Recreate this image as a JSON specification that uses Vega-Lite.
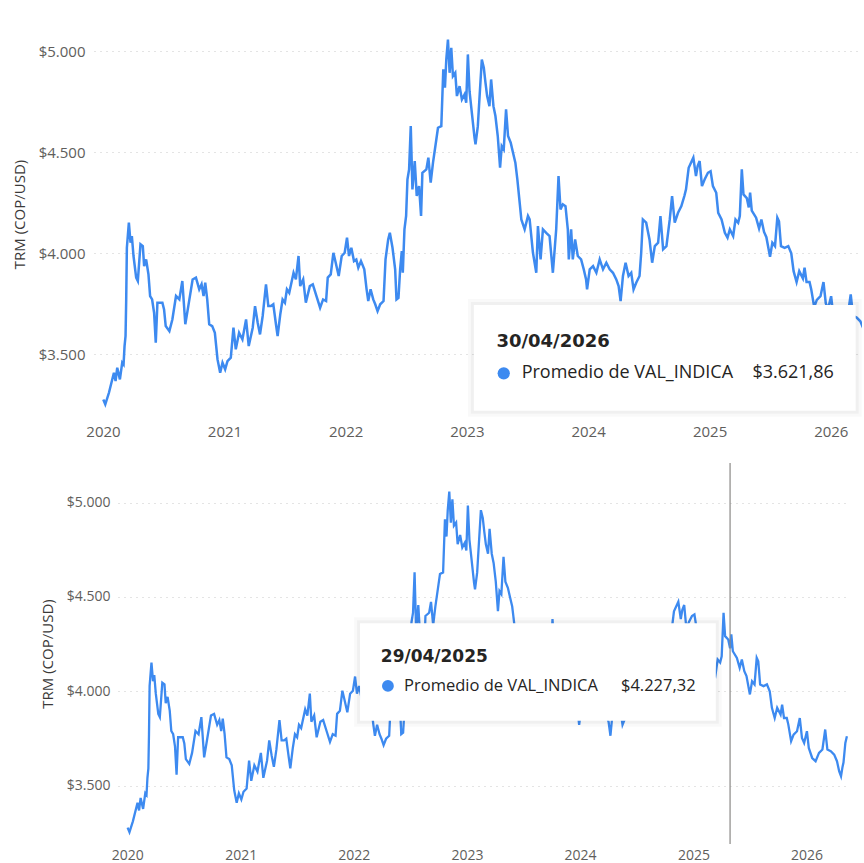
{
  "$schema": "https://vega.github.io/schema/vega-lite/v6.json",
  "background": "white",
  "padding": {"left": 11, "top": 11, "right": 0, "bottom": 0},
  "spacing": 23,
  "config": {
    "view": {"stroke": null},
    "font": "Open Sans",
    "axis": {
      "domain": false,
      "ticks": false,
      "labelFont": "Open Sans",
      "labelColor": "#605E5C",
      "titleFont": "Open Sans",
      "titleColor": "#3B3A39",
      "titleFontWeight": "normal",
      "gridColor": "#C8C8C8",
      "gridDash": [1, 5]
    }
  },
  "datasets": {
    "serie": [
      {"fecha": "2020-01-02", "trm": 3277}, {"fecha": "2020-01-08", "trm": 3253}, {"fecha": "2020-01-19", "trm": 3310},
      {"fecha": "2020-02-03", "trm": 3409}, {"fecha": "2020-02-08", "trm": 3368}, {"fecha": "2020-02-13", "trm": 3434},
      {"fecha": "2020-02-21", "trm": 3376}, {"fecha": "2020-02-28", "trm": 3459}, {"fecha": "2020-03-03", "trm": 3450},
      {"fecha": "2020-03-06", "trm": 3541}, {"fecha": "2020-03-09", "trm": 3591}, {"fecha": "2020-03-11", "trm": 3772},
      {"fecha": "2020-03-13", "trm": 4028}, {"fecha": "2020-03-19", "trm": 4152}, {"fecha": "2020-03-24", "trm": 4053},
      {"fecha": "2020-03-28", "trm": 4086}, {"fecha": "2020-04-02", "trm": 3987}, {"fecha": "2020-04-10", "trm": 3880},
      {"fecha": "2020-04-15", "trm": 3863}, {"fecha": "2020-04-23", "trm": 4045}, {"fecha": "2020-04-30", "trm": 4036},
      {"fecha": "2020-05-04", "trm": 3937}, {"fecha": "2020-05-10", "trm": 3970}, {"fecha": "2020-05-17", "trm": 3896},
      {"fecha": "2020-05-22", "trm": 3789}, {"fecha": "2020-05-28", "trm": 3772}, {"fecha": "2020-06-03", "trm": 3706},
      {"fecha": "2020-06-08", "trm": 3558}, {"fecha": "2020-06-13", "trm": 3756}, {"fecha": "2020-06-28", "trm": 3756},
      {"fecha": "2020-07-03", "trm": 3723}, {"fecha": "2020-07-08", "trm": 3640}, {"fecha": "2020-07-19", "trm": 3615},
      {"fecha": "2020-07-28", "trm": 3673}, {"fecha": "2020-08-08", "trm": 3789}, {"fecha": "2020-08-18", "trm": 3772},
      {"fecha": "2020-08-27", "trm": 3863}, {"fecha": "2020-09-05", "trm": 3649}, {"fecha": "2020-09-14", "trm": 3739},
      {"fecha": "2020-09-27", "trm": 3871}, {"fecha": "2020-10-07", "trm": 3880}, {"fecha": "2020-10-17", "trm": 3822},
      {"fecha": "2020-10-24", "trm": 3847}, {"fecha": "2020-10-30", "trm": 3789}, {"fecha": "2020-11-04", "trm": 3855},
      {"fecha": "2020-11-10", "trm": 3772}, {"fecha": "2020-11-16", "trm": 3649}, {"fecha": "2020-11-25", "trm": 3640},
      {"fecha": "2020-12-03", "trm": 3607}, {"fecha": "2020-12-11", "trm": 3475}, {"fecha": "2020-12-19", "trm": 3409},
      {"fecha": "2020-12-26", "trm": 3459}, {"fecha": "2021-01-03", "trm": 3426}, {"fecha": "2021-01-10", "trm": 3467},
      {"fecha": "2021-01-20", "trm": 3484}, {"fecha": "2021-01-28", "trm": 3632}, {"fecha": "2021-02-04", "trm": 3525},
      {"fecha": "2021-02-14", "trm": 3607}, {"fecha": "2021-02-24", "trm": 3574}, {"fecha": "2021-03-07", "trm": 3673},
      {"fecha": "2021-03-15", "trm": 3541}, {"fecha": "2021-03-27", "trm": 3632}, {"fecha": "2021-04-03", "trm": 3739},
      {"fecha": "2021-04-11", "trm": 3657}, {"fecha": "2021-04-18", "trm": 3599}, {"fecha": "2021-04-26", "trm": 3690},
      {"fecha": "2021-05-06", "trm": 3847}, {"fecha": "2021-05-13", "trm": 3739}, {"fecha": "2021-05-21", "trm": 3739},
      {"fecha": "2021-05-28", "trm": 3748}, {"fecha": "2021-06-05", "trm": 3649}, {"fecha": "2021-06-10", "trm": 3591},
      {"fecha": "2021-06-18", "trm": 3698}, {"fecha": "2021-06-25", "trm": 3772}, {"fecha": "2021-07-02", "trm": 3756},
      {"fecha": "2021-07-08", "trm": 3822}, {"fecha": "2021-07-15", "trm": 3805}, {"fecha": "2021-07-28", "trm": 3904},
      {"fecha": "2021-08-04", "trm": 3871}, {"fecha": "2021-08-12", "trm": 3987}, {"fecha": "2021-08-17", "trm": 3838},
      {"fecha": "2021-08-26", "trm": 3871}, {"fecha": "2021-09-03", "trm": 3756}, {"fecha": "2021-09-15", "trm": 3838},
      {"fecha": "2021-09-24", "trm": 3847}, {"fecha": "2021-10-05", "trm": 3789}, {"fecha": "2021-10-16", "trm": 3731},
      {"fecha": "2021-10-25", "trm": 3772}, {"fecha": "2021-11-03", "trm": 3764}, {"fecha": "2021-11-08", "trm": 3880},
      {"fecha": "2021-11-17", "trm": 3896}, {"fecha": "2021-11-25", "trm": 4003}, {"fecha": "2021-12-02", "trm": 3954},
      {"fecha": "2021-12-11", "trm": 3888}, {"fecha": "2021-12-20", "trm": 3987}, {"fecha": "2021-12-29", "trm": 4003},
      {"fecha": "2022-01-05", "trm": 4078}, {"fecha": "2022-01-11", "trm": 3987}, {"fecha": "2022-01-18", "trm": 4028},
      {"fecha": "2022-01-26", "trm": 3962}, {"fecha": "2022-02-02", "trm": 3970}, {"fecha": "2022-02-08", "trm": 3929},
      {"fecha": "2022-02-16", "trm": 3962}, {"fecha": "2022-02-26", "trm": 3921}, {"fecha": "2022-03-05", "trm": 3822},
      {"fecha": "2022-03-10", "trm": 3764}, {"fecha": "2022-03-17", "trm": 3822}, {"fecha": "2022-03-25", "trm": 3772},
      {"fecha": "2022-03-31", "trm": 3748}, {"fecha": "2022-04-07", "trm": 3714}, {"fecha": "2022-04-15", "trm": 3748},
      {"fecha": "2022-04-25", "trm": 3764}, {"fecha": "2022-05-01", "trm": 3970}, {"fecha": "2022-05-09", "trm": 4069},
      {"fecha": "2022-05-14", "trm": 4102}, {"fecha": "2022-05-22", "trm": 4028}, {"fecha": "2022-05-30", "trm": 3921},
      {"fecha": "2022-06-03", "trm": 3772}, {"fecha": "2022-06-09", "trm": 3780}, {"fecha": "2022-06-14", "trm": 3921},
      {"fecha": "2022-06-19", "trm": 4011}, {"fecha": "2022-06-22", "trm": 3904}, {"fecha": "2022-06-27", "trm": 4119},
      {"fecha": "2022-07-02", "trm": 4185}, {"fecha": "2022-07-06", "trm": 4366}, {"fecha": "2022-07-11", "trm": 4416},
      {"fecha": "2022-07-16", "trm": 4630}, {"fecha": "2022-07-21", "trm": 4317}, {"fecha": "2022-07-28", "trm": 4457},
      {"fecha": "2022-08-03", "trm": 4284}, {"fecha": "2022-08-10", "trm": 4333}, {"fecha": "2022-08-16", "trm": 4185},
      {"fecha": "2022-08-20", "trm": 4399}, {"fecha": "2022-09-01", "trm": 4416}, {"fecha": "2022-09-07", "trm": 4474},
      {"fecha": "2022-09-14", "trm": 4350}, {"fecha": "2022-09-21", "trm": 4449}, {"fecha": "2022-10-01", "trm": 4564},
      {"fecha": "2022-10-06", "trm": 4622}, {"fecha": "2022-10-16", "trm": 4630}, {"fecha": "2022-10-22", "trm": 4911},
      {"fecha": "2022-10-27", "trm": 4820}, {"fecha": "2022-10-31", "trm": 4960}, {"fecha": "2022-11-05", "trm": 5059},
      {"fecha": "2022-11-10", "trm": 4894}, {"fecha": "2022-11-15", "trm": 5018}, {"fecha": "2022-11-20", "trm": 4878},
      {"fecha": "2022-11-27", "trm": 4894}, {"fecha": "2022-12-02", "trm": 4779}, {"fecha": "2022-12-10", "trm": 4828},
      {"fecha": "2022-12-17", "trm": 4762}, {"fecha": "2022-12-25", "trm": 4787}, {"fecha": "2022-12-30", "trm": 4746},
      {"fecha": "2023-01-04", "trm": 4985}, {"fecha": "2023-01-09", "trm": 4803}, {"fecha": "2023-01-16", "trm": 4696},
      {"fecha": "2023-01-24", "trm": 4573}, {"fecha": "2023-01-27", "trm": 4540}, {"fecha": "2023-02-03", "trm": 4630},
      {"fecha": "2023-02-08", "trm": 4770}, {"fecha": "2023-02-15", "trm": 4960}, {"fecha": "2023-02-21", "trm": 4919},
      {"fecha": "2023-02-26", "trm": 4845}, {"fecha": "2023-03-03", "trm": 4779}, {"fecha": "2023-03-10", "trm": 4729},
      {"fecha": "2023-03-15", "trm": 4861}, {"fecha": "2023-03-22", "trm": 4729}, {"fecha": "2023-03-28", "trm": 4680},
      {"fecha": "2023-04-04", "trm": 4581}, {"fecha": "2023-04-11", "trm": 4424}, {"fecha": "2023-04-16", "trm": 4531},
      {"fecha": "2023-04-22", "trm": 4515}, {"fecha": "2023-04-29", "trm": 4713}, {"fecha": "2023-05-05", "trm": 4581},
      {"fecha": "2023-05-13", "trm": 4548}, {"fecha": "2023-05-20", "trm": 4498}, {"fecha": "2023-05-27", "trm": 4449},
      {"fecha": "2023-06-02", "trm": 4366}, {"fecha": "2023-06-09", "trm": 4251}, {"fecha": "2023-06-14", "trm": 4168},
      {"fecha": "2023-06-24", "trm": 4119}, {"fecha": "2023-07-04", "trm": 4185}, {"fecha": "2023-07-09", "trm": 4168},
      {"fecha": "2023-07-19", "trm": 4003}, {"fecha": "2023-07-29", "trm": 3904}, {"fecha": "2023-08-03", "trm": 4135},
      {"fecha": "2023-08-11", "trm": 3970}, {"fecha": "2023-08-18", "trm": 4119}, {"fecha": "2023-08-28", "trm": 4102},
      {"fecha": "2023-09-07", "trm": 4086}, {"fecha": "2023-09-17", "trm": 3904}, {"fecha": "2023-09-27", "trm": 4119},
      {"fecha": "2023-10-04", "trm": 4383}, {"fecha": "2023-10-10", "trm": 4218}, {"fecha": "2023-10-17", "trm": 4243},
      {"fecha": "2023-10-25", "trm": 4234}, {"fecha": "2023-11-01", "trm": 4119}, {"fecha": "2023-11-04", "trm": 3970},
      {"fecha": "2023-11-11", "trm": 4119}, {"fecha": "2023-11-16", "trm": 3970}, {"fecha": "2023-11-23", "trm": 4069},
      {"fecha": "2023-12-01", "trm": 3987}, {"fecha": "2023-12-11", "trm": 3970}, {"fecha": "2023-12-19", "trm": 3921},
      {"fecha": "2023-12-26", "trm": 3871}, {"fecha": "2023-12-29", "trm": 3822}, {"fecha": "2024-01-06", "trm": 3921},
      {"fecha": "2024-01-16", "trm": 3937}, {"fecha": "2024-01-26", "trm": 3904}, {"fecha": "2024-02-05", "trm": 3970},
      {"fecha": "2024-02-15", "trm": 3921}, {"fecha": "2024-02-25", "trm": 3954}, {"fecha": "2024-03-06", "trm": 3921},
      {"fecha": "2024-03-16", "trm": 3904}, {"fecha": "2024-03-26", "trm": 3871}, {"fecha": "2024-04-02", "trm": 3838},
      {"fecha": "2024-04-08", "trm": 3764}, {"fecha": "2024-04-15", "trm": 3888}, {"fecha": "2024-04-23", "trm": 3954},
      {"fecha": "2024-05-02", "trm": 3888}, {"fecha": "2024-05-10", "trm": 3904}, {"fecha": "2024-05-17", "trm": 3822},
      {"fecha": "2024-05-25", "trm": 3855}, {"fecha": "2024-06-04", "trm": 3888}, {"fecha": "2024-06-09", "trm": 4003},
      {"fecha": "2024-06-14", "trm": 4168}, {"fecha": "2024-06-24", "trm": 4152}, {"fecha": "2024-07-04", "trm": 4069},
      {"fecha": "2024-07-12", "trm": 3954}, {"fecha": "2024-07-20", "trm": 4036}, {"fecha": "2024-07-30", "trm": 4053},
      {"fecha": "2024-08-06", "trm": 4185}, {"fecha": "2024-08-14", "trm": 4020}, {"fecha": "2024-08-24", "trm": 4036},
      {"fecha": "2024-09-03", "trm": 4168}, {"fecha": "2024-09-10", "trm": 4284}, {"fecha": "2024-09-18", "trm": 4152},
      {"fecha": "2024-09-28", "trm": 4201}, {"fecha": "2024-10-08", "trm": 4234}, {"fecha": "2024-10-17", "trm": 4284},
      {"fecha": "2024-10-22", "trm": 4317}, {"fecha": "2024-10-30", "trm": 4424}, {"fecha": "2024-11-13", "trm": 4474},
      {"fecha": "2024-11-21", "trm": 4383}, {"fecha": "2024-11-26", "trm": 4432}, {"fecha": "2024-12-02", "trm": 4457},
      {"fecha": "2024-12-09", "trm": 4333}, {"fecha": "2024-12-17", "trm": 4366}, {"fecha": "2024-12-27", "trm": 4399},
      {"fecha": "2025-01-04", "trm": 4407}, {"fecha": "2025-01-11", "trm": 4333}, {"fecha": "2025-01-21", "trm": 4300},
      {"fecha": "2025-01-27", "trm": 4201}, {"fecha": "2025-02-06", "trm": 4168}, {"fecha": "2025-02-16", "trm": 4102},
      {"fecha": "2025-02-24", "trm": 4078}, {"fecha": "2025-03-03", "trm": 4119}, {"fecha": "2025-03-13", "trm": 4086},
      {"fecha": "2025-03-20", "trm": 4168}, {"fecha": "2025-03-28", "trm": 4152}, {"fecha": "2025-04-02", "trm": 4185},
      {"fecha": "2025-04-08", "trm": 4416}, {"fecha": "2025-04-13", "trm": 4292}, {"fecha": "2025-04-23", "trm": 4274},
      {"fecha": "2025-04-29", "trm": 4227.32}, {"fecha": "2025-05-03", "trm": 4301}, {"fecha": "2025-05-08", "trm": 4212},
      {"fecha": "2025-05-21", "trm": 4177}, {"fecha": "2025-05-30", "trm": 4124}, {"fecha": "2025-06-06", "trm": 4168},
      {"fecha": "2025-06-14", "trm": 4106}, {"fecha": "2025-06-21", "trm": 4080}, {"fecha": "2025-07-02", "trm": 3983},
      {"fecha": "2025-07-09", "trm": 4053}, {"fecha": "2025-07-17", "trm": 4036}, {"fecha": "2025-07-24", "trm": 4177},
      {"fecha": "2025-07-29", "trm": 4159}, {"fecha": "2025-08-04", "trm": 4036}, {"fecha": "2025-08-15", "trm": 4027},
      {"fecha": "2025-08-26", "trm": 4036}, {"fecha": "2025-09-04", "trm": 4000}, {"fecha": "2025-09-11", "trm": 3912},
      {"fecha": "2025-09-20", "trm": 3858}, {"fecha": "2025-09-28", "trm": 3912}, {"fecha": "2025-10-09", "trm": 3876},
      {"fecha": "2025-10-14", "trm": 3929}, {"fecha": "2025-10-20", "trm": 3858}, {"fecha": "2025-10-29", "trm": 3858},
      {"fecha": "2025-11-03", "trm": 3823}, {"fecha": "2025-11-12", "trm": 3735}, {"fecha": "2025-11-20", "trm": 3770},
      {"fecha": "2025-12-01", "trm": 3788}, {"fecha": "2025-12-10", "trm": 3858}, {"fecha": "2025-12-17", "trm": 3752},
      {"fecha": "2025-12-24", "trm": 3726}, {"fecha": "2026-01-02", "trm": 3788}, {"fecha": "2026-01-08", "trm": 3699},
      {"fecha": "2026-01-19", "trm": 3646}, {"fecha": "2026-01-30", "trm": 3629}, {"fecha": "2026-02-10", "trm": 3673},
      {"fecha": "2026-02-21", "trm": 3691}, {"fecha": "2026-03-02", "trm": 3797}, {"fecha": "2026-03-09", "trm": 3691},
      {"fecha": "2026-03-20", "trm": 3682}, {"fecha": "2026-03-31", "trm": 3664}, {"fecha": "2026-04-09", "trm": 3629},
      {"fecha": "2026-04-16", "trm": 3576}, {"fecha": "2026-04-22", "trm": 3549}, {"fecha": "2026-04-27", "trm": 3600},
      {"fecha": "2026-04-30", "trm": 3621.86}, {"fecha": "2026-05-06", "trm": 3726}, {"fecha": "2026-05-11", "trm": 3761}
    ],
    "caja_sup": [{"desde": "2023-01-22", "hasta": "2026-03-17", "bajo": 3221, "alto": 3744}],
    "fecha_sup": [{"fecha": "2023-03-31", "trm": 3563, "texto": "30/04/2026"}],
    "punto_sup": [{"fecha": "2023-04-22", "trm": 3406}],
    "textos_sup": [
      {"fecha": "2023-06-15", "trm": 3406, "texto": "Promedio de VAL_INDICA"},
      {"fecha": "2025-05-10", "trm": 3406, "texto": "$3.621,86"}
    ],
    "caja_inf": [{"desde": "2022-01-21", "hasta": "2025-03-14", "bajo": 3844, "alto": 4360}],
    "fecha_inf": [{"fecha": "2022-03-29", "trm": 4181, "texto": "29/04/2025"}],
    "punto_inf": [{"fecha": "2022-04-21", "trm": 4028}],
    "textos_inf": [
      {"fecha": "2022-06-12", "trm": 4028, "texto": "Promedio de VAL_INDICA"},
      {"fecha": "2024-05-12", "trm": 4028, "texto": "$4.227,32"}
    ],
    "regla_inf": [{"fecha": "2025-04-29"}]
  },
  "vconcat": [
    {
      "spacing": 0,
      "hconcat": [
        {
          "width": 1,
          "height": 1,
          "data": {"values": [{}]},
          "mark": {"type": "point", "opacity": 0, "size": 0}
        },
        {
          "width": 768,
          "height": 406,
          "layer": [
            {
              "data": {"name": "serie"},
              "mark": {"type": "line", "color": "#3D8AF0", "strokeWidth": 2.5, "clip": true},
              "encoding": {
                "x": {
                  "field": "fecha", "type": "temporal",
                  "scale": {"domain": [{"year": 2019, "month": 12, "date": 5}, {"year": 2026, "month": 4, "date": 5}]},
                  "axis": {"title": null, "format": "%Y", "tickCount": {"interval": "year", "step": 1}, "labelFontSize": 15, "labelPadding": 7, "grid": false, "labelFlush": false}
                },
                "y": {
                  "field": "trm", "type": "quantitative",
                  "scale": {"domain": [3190, 5200], "zero": false, "nice": false},
                  "axis": {"title": "TRM (COP/USD)", "values": [3500, 4000, 4500, 5000], "labelExpr": "'$' + replace(format(datum.value, ',.0f'), ',', '.')", "labelFontSize": 15, "labelPadding": 9, "titleFontSize": 15, "titlePadding": 11}
                }
              }
            },
            {
              "data": {"name": "caja_sup"},
              "mark": {"type": "rect", "fill": null, "stroke": "#000000", "strokeOpacity": 0.025, "strokeWidth": 12},
              "encoding": {"x": {"field": "desde", "type": "temporal"}, "x2": {"field": "hasta"}, "y": {"field": "bajo", "type": "quantitative"}, "y2": {"field": "alto"}}
            },
            {
              "data": {"name": "caja_sup"},
              "mark": {"type": "rect", "fill": null, "stroke": "#000000", "strokeOpacity": 0.035, "strokeWidth": 6},
              "encoding": {"x": {"field": "desde", "type": "temporal"}, "x2": {"field": "hasta"}, "y": {"field": "bajo", "type": "quantitative"}, "y2": {"field": "alto"}}
            },
            {
              "data": {"name": "caja_sup"},
              "mark": {"type": "rect", "fill": "#FFFFFF", "opacity": 1},
              "encoding": {"x": {"field": "desde", "type": "temporal"}, "x2": {"field": "hasta"}, "y": {"field": "bajo", "type": "quantitative"}, "y2": {"field": "alto"}}
            },
            {
              "data": {"name": "fecha_sup"},
              "mark": {"type": "text", "align": "left", "baseline": "middle", "font": "DejaVu Sans", "fontWeight": "bold", "fontSize": 18, "color": "#252423"},
              "encoding": {"x": {"field": "fecha", "type": "temporal"}, "y": {"field": "trm", "type": "quantitative"}, "text": {"field": "texto"}}
            },
            {
              "data": {"name": "punto_sup"},
              "mark": {"type": "point", "filled": true, "size": 150, "color": "#3D8AF0", "opacity": 1},
              "encoding": {"x": {"field": "fecha", "type": "temporal"}, "y": {"field": "trm", "type": "quantitative"}}
            },
            {
              "data": {"name": "textos_sup"},
              "mark": {"type": "text", "align": "left", "baseline": "middle", "font": "Open Sans", "fontSize": 18, "color": "#252423"},
              "encoding": {"x": {"field": "fecha", "type": "temporal"}, "y": {"field": "trm", "type": "quantitative"}, "text": {"field": "texto"}}
            }
          ]
        }
      ]
    },
    {
      "spacing": 0,
      "hconcat": [
        {
          "width": 29,
          "height": 1,
          "data": {"values": [{}]},
          "mark": {"type": "point", "opacity": 0, "size": 0}
        },
        {
          "width": 732,
          "height": 381,
          "layer": [
            {
              "data": {"name": "serie"},
              "mark": {"type": "line", "color": "#3D8AF0", "strokeWidth": 2.3, "clip": true},
              "encoding": {
                "x": {
                  "field": "fecha", "type": "temporal",
                  "scale": {"domain": [{"year": 2019, "month": 12, "date": 2}, {"year": 2026, "month": 5, "date": 21}]},
                  "axis": {"title": null, "format": "%Y", "tickCount": {"interval": "year", "step": 1}, "labelFontSize": 14, "labelPadding": 4, "grid": false, "labelFlush": false}
                },
                "y": {
                  "field": "trm", "type": "quantitative",
                  "scale": {"domain": [3190, 5210], "zero": false, "nice": false},
                  "axis": {"title": "TRM (COP/USD)", "values": [3500, 4000, 4500, 5000], "labelExpr": "'$' + replace(format(datum.value, ',.0f'), ',', '.')", "labelFontSize": 14, "labelPadding": 8, "titleFontSize": 15, "titlePadding": 11}
                }
              }
            },
            {
              "data": {"name": "regla_inf"},
              "mark": {"type": "rule", "color": "#8A8886", "strokeWidth": 1.2},
              "encoding": {"x": {"field": "fecha", "type": "temporal"}}
            },
            {
              "data": {"name": "caja_inf"},
              "mark": {"type": "rect", "fill": null, "stroke": "#000000", "strokeOpacity": 0.025, "strokeWidth": 12},
              "encoding": {"x": {"field": "desde", "type": "temporal"}, "x2": {"field": "hasta"}, "y": {"field": "bajo", "type": "quantitative"}, "y2": {"field": "alto"}}
            },
            {
              "data": {"name": "caja_inf"},
              "mark": {"type": "rect", "fill": null, "stroke": "#000000", "strokeOpacity": 0.035, "strokeWidth": 6},
              "encoding": {"x": {"field": "desde", "type": "temporal"}, "x2": {"field": "hasta"}, "y": {"field": "bajo", "type": "quantitative"}, "y2": {"field": "alto"}}
            },
            {
              "data": {"name": "caja_inf"},
              "mark": {"type": "rect", "fill": "#FFFFFF", "opacity": 1},
              "encoding": {"x": {"field": "desde", "type": "temporal"}, "x2": {"field": "hasta"}, "y": {"field": "bajo", "type": "quantitative"}, "y2": {"field": "alto"}}
            },
            {
              "data": {"name": "fecha_inf"},
              "mark": {"type": "text", "align": "left", "baseline": "middle", "font": "DejaVu Sans", "fontWeight": "bold", "fontSize": 17, "color": "#252423"},
              "encoding": {"x": {"field": "fecha", "type": "temporal"}, "y": {"field": "trm", "type": "quantitative"}, "text": {"field": "texto"}}
            },
            {
              "data": {"name": "punto_inf"},
              "mark": {"type": "point", "filled": true, "size": 140, "color": "#3D8AF0", "opacity": 1},
              "encoding": {"x": {"field": "fecha", "type": "temporal"}, "y": {"field": "trm", "type": "quantitative"}}
            },
            {
              "data": {"name": "textos_inf"},
              "mark": {"type": "text", "align": "left", "baseline": "middle", "font": "Open Sans", "fontSize": 16.5, "color": "#252423"},
              "encoding": {"x": {"field": "fecha", "type": "temporal"}, "y": {"field": "trm", "type": "quantitative"}, "text": {"field": "texto"}}
            }
          ]
        }
      ]
    }
  ]
}
